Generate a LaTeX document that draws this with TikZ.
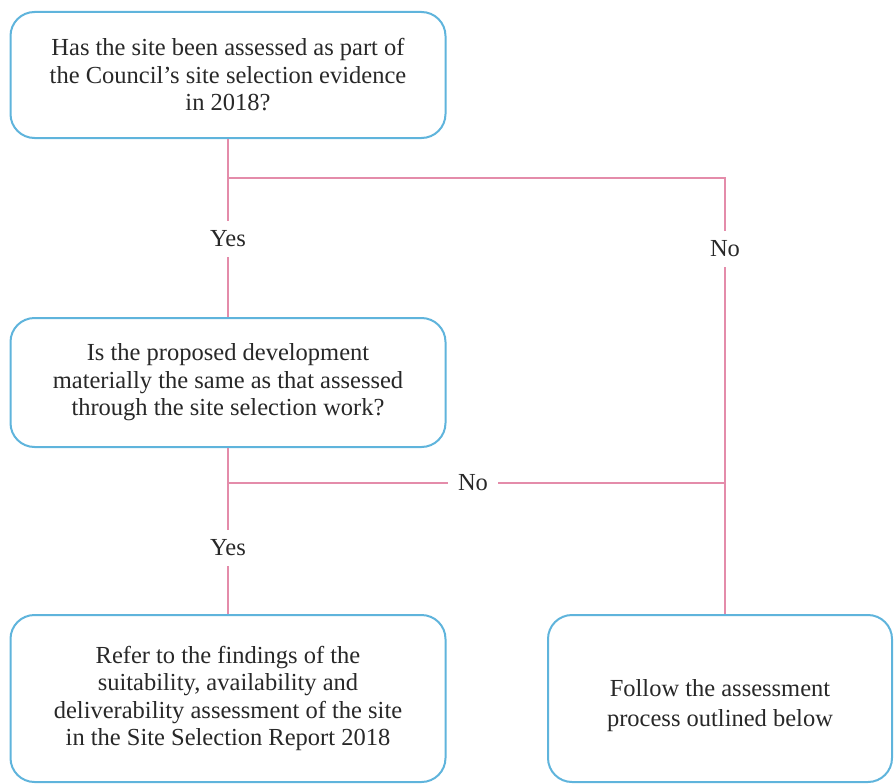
\documentclass[tikz,border=0pt]{standalone}
\usepackage{fontspec}
\setmainfont{Liberation Serif}
\definecolor{boxblue}{RGB}{95,180,220}
\definecolor{linkpink}{RGB}{228,140,170}
\definecolor{textgray}{RGB}{40,40,40}
\begin{document}
\begin{tikzpicture}[x=1pt,y=-1pt,
  box/.style={draw=boxblue, line width=2pt, rounded corners=24pt, fill=white,
    align=center, font=\fontsize{24.5}{27.5}\selectfont, text=textgray,
    inner sep=0pt, minimum width=435pt},
  conn/.style={draw=linkpink, line width=1.8pt},
  lab/.style={font=\fontsize{24.5}{27.5}\selectfont, text=textgray,
    inner xsep=10pt, inner ysep=10pt}]
\useasboundingbox (0,0) rectangle (894,784);
\node[box, minimum height=126pt] (b1) at (228,75)
  {Has the site been assessed as part of\\ the Council's site selection evidence\\ in 2018?};
\node[box, minimum height=129pt] (b2) at (228,382.5)
  {Is the proposed development\\ materially the same as that assessed\\ through the site selection work?};
\node[box, minimum height=167pt] (b3) at (228,698.5)
  {Refer to the findings of the\\ suitability, availability and\\ deliverability assessment of the site\\ in the Site Selection Report 2018};
\node[box, minimum height=167pt, minimum width=344pt] (b4) at (720,698.5)
  {\\[4pt]Follow the assessment\\[3pt] process outlined below};
\coordinate (j1) at (228,178);
\coordinate (j2) at (725,178);
\coordinate (j3) at (228,483);
\coordinate (j4) at (725,483);
\node[lab] (y1) at (228,239) {Yes};
\node[lab] (n1) at (725,249) {No};
\node[lab] (n2) at (473,483) {No};
\node[lab] (y2) at (228,548) {Yes};
\draw[conn] (b1.south) -- (j1) -- (y1);
\draw[conn] (y1) -- (b2.north);
\draw[conn] (j1) -- (j2) -- (n1);
\draw[conn] (n1) -- (j4) -- (j4 |- b4.north);
\draw[conn] (b2.south) -- (j3) -- (y2);
\draw[conn] (y2) -- (b3.north);
\draw[conn] (j3) -- (n2);
\draw[conn] (n2) -- (j4);
\end{tikzpicture}
\end{document}
